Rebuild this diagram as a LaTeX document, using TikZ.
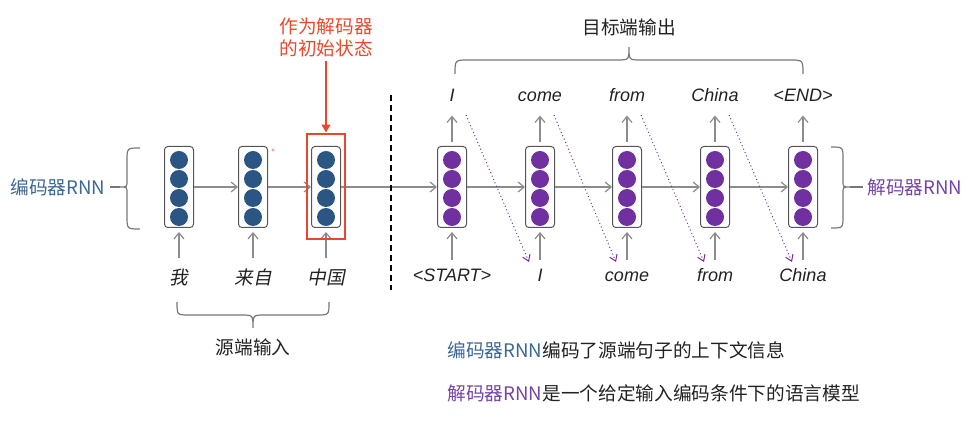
\documentclass[tikz,border=0pt]{standalone}
\usepackage{fontspec}
\setmainfont{Liberation Sans}
\newfontfamily\cjk{Noto Sans CJK SC}
\newfontfamily\cjkslant[FakeSlant=0.2]{Noto Sans CJK SC}
\usetikzlibrary{arrows.meta}

\definecolor{encblue}{HTML}{2B5583}
\definecolor{decpurple}{HTML}{7030A0}
\definecolor{encname}{HTML}{3B6793}
\definecolor{decname}{HTML}{7443A6}
\definecolor{initred}{HTML}{E8492C}
\definecolor{flowgray}{HTML}{8C8C8C}
\definecolor{boxgray}{HTML}{555555}
\definecolor{inkgray}{HTML}{222222}

\tikzset{
  cell/.style={draw=boxgray, rounded corners=2.5pt, line width=0.75pt, minimum width=21.75pt, minimum height=60.75pt, inner sep=0pt},
  flow/.style={draw=flowgray, line width=0.9pt, -{Straight Barb[length=4.5pt,width=7.5pt]}},
  feed/.style={draw=decpurple, dotted, line width=0.75pt, -{Straight Barb[length=4.5pt,width=6pt]}},
  word/.style={font=\fontsize{13.5}{16}\selectfont\itshape, text=inkgray, inner sep=0pt, text height=10pt, text depth=2.5pt},
  hanzi/.style={font=\fontsize{14}{16}\selectfont\cjkslant, text=inkgray, inner sep=0pt, text height=10pt, text depth=2.5pt},
  cntext/.style={font=\fontsize{14}{16.5}\selectfont\cjk, text=inkgray, inner sep=1pt},
  bracket/.style={draw=boxgray!80, line width=0.9pt},
}

\begin{document}
\begin{tikzpicture}[x=0.75pt,y=0.75pt,yscale=-1,xscale=1]
\useasboundingbox (0,0) rectangle (975,423);

% encoder cells
\foreach \x/\n/\w in {179/1/我,253/2/来自,326/3/中国} {
  \node[cell] (e\n) at (\x,187) {};
  \foreach \cy in {160,179,198,217} \fill[encblue] (\x,\cy) circle [radius=6.75pt];
  \node[hanzi] (ein\n) at (\x,280) {\w};
  \draw[flow, shorten <=10pt, shorten >=3pt] (ein\n.north) -- (e\n.south);
}

% decoder cells
\foreach \x/\n/\a/\b in {452/1/<START>/I,540/2/I/come,627/3/come/from,715/4/from/China,803/5/China/<END>} {
  \node[cell] (d\n) at (\x,187) {};
  \foreach \cy in {160,179,198,217} \fill[decpurple] (\x,\cy) circle [radius=6.75pt];
  \node[word] (din\n) at (\x,277) {\a};
  \node[word] (dout\n) at (\x,97) {\b};
  \draw[flow, shorten <=6.5pt, shorten >=3pt] (din\n.north) -- (d\n.south);
  \draw[flow, shorten <=3pt, shorten >=7.5pt] (d\n.north) -- (dout\n.south);
}

% recurrent links
\draw[flow] (e1.east) -- (e2.west);
\draw[flow] (e2.east) -- (e3.west);
\draw[flow] (e3.east) -- (d1.west);
\foreach \i/\j in {1/2,2/3,3/4,4/5} \draw[flow] (d\i.east) -- (d\j.west);

% output fed back as next input
\foreach \i/\xs/\xe in {1/466/529,2/554/616,3/641/704,4/729/792} {
  \coordinate (fs\i) at (\xs,115);
  \coordinate (fe\i) at (\xe,262);
  \draw[feed] (fs\i) -- (fe\i);
}

% separator
\coordinate (sepTop) at (391,95);
\coordinate (sepBot) at (391,290);
\draw[black, line width=1.4pt, dash pattern=on 4.5pt off 3pt] (sepTop) -- (sepBot);

% initial state
\node[draw=initred, line width=2.2pt, minimum width=28.5pt, minimum height=78.75pt, inner sep=0pt] (init) at (326,186.5) {};
\node[cntext, text=initred, align=center] (inittxt) at (326,37) {作为解码器\\的初始状态};
\draw[initred, line width=1.8pt, -{Triangle[length=6pt,width=6.5pt]}, shorten <=2pt] (inittxt.south) -- (init.north);

% braces and names
\draw[bracket] (140,148) .. controls (127,148) .. (127,161) -- (127,181) .. controls (127,187) .. (120,187) .. controls (127,187) .. (127,193) -- (127,216) .. controls (127,229) .. (140,229);
\node[cntext, text=encname] (encrnn) at (58,187) {编码器RNN};
\draw[bracket] (encrnn.east) ++(3,0) -- (120,187);

\draw[bracket] (831,147) .. controls (843,147) .. (843,159) -- (843,181) .. controls (843,187) .. (850,187) .. controls (843,187) .. (843,193) -- (843,216) .. controls (843,228) .. (831,228);
\node[cntext, text=decname] (decrnn) at (915,187) {解码器RNN};
\draw[bracket] (850,187) -- ([xshift=-2pt]decrnn.west);

\draw[bracket] (455,74) .. controls (455,60) .. (468,60) -- (617,60) .. controls (629,60) .. (629,47) .. controls (629,60) .. (641,60) -- (790,60) .. controls (803,60) .. (803,74);
\node[cntext] (tgt) at (629,27) {目标端输出};

\draw[bracket] (177,302) .. controls (177,315) .. (189,315) -- (241,315) .. controls (253,315) .. (253,328) .. controls (253,315) .. (265,315) -- (317,315) .. controls (329,315) .. (329,302);
\node[cntext] (src) at (253,347) {源端输入};

% notes
\node[cntext, anchor=west] (note1) at (446,350) {{\color{encname}编码器RNN}编码了源端句子的上下文信息};
\node[cntext, anchor=west] (note2) at (446,393) {{\color{decname}解码器RNN}是一个给定输入编码条件下的语言模型};

% stray mark
\fill[initred!50] (273,150) circle [radius=1.2pt];

\end{tikzpicture}
\end{document}
